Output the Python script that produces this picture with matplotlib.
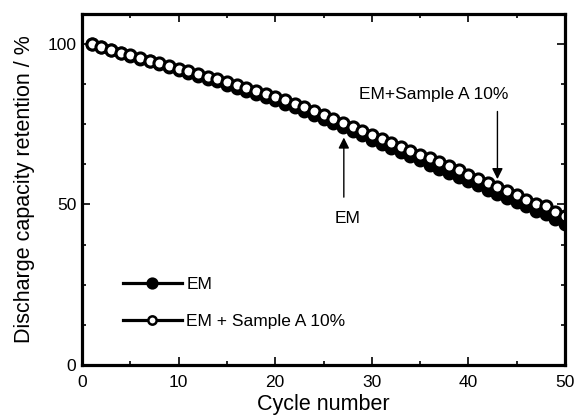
import matplotlib
matplotlib.use("Agg")
import matplotlib.pyplot as plt
from matplotlib.ticker import MultipleLocator

plt.rcParams['font.family'] = ['Liberation Sans', 'DejaVu Sans']

cycles = list(range(1, 51))
em = [100.0, 99.0, 98.0, 97.2, 96.3, 95.4, 94.6, 93.7, 92.8, 91.9,
      91.0, 90.1, 89.2, 88.3, 87.3, 86.4, 85.4, 84.4, 83.4, 82.4,
      81.3, 80.2, 79.0, 77.8, 76.6, 75.4, 74.2, 72.9, 71.6, 70.2,
      68.9, 67.6, 66.3, 65.0, 63.7, 62.4, 61.1, 59.8, 58.5, 57.2,
      55.9, 54.6, 53.3, 52.0, 50.7, 49.4, 48.1, 46.9, 45.5, 43.8]
em_sample = [100.0, 99.0, 98.1, 97.3, 96.4, 95.6, 94.8, 94.0, 93.1, 92.3,
             91.5, 90.6, 89.8, 88.9, 88.0, 87.2, 86.3, 85.4, 84.5, 83.5,
             82.5, 81.4, 80.3, 79.1, 77.9, 76.7, 75.5, 74.2, 72.9, 71.5,
             70.3, 69.1, 67.9, 66.7, 65.5, 64.3, 63.1, 61.9, 60.6, 59.3,
             58.0, 56.7, 55.4, 54.1, 52.8, 51.5, 50.2, 49.4, 47.6, 46.3]
labels = ["EM", "EM + Sample A 10%"]

fig = plt.figure(figsize=(5.76, 4.2), dpi=100)
ax = fig.add_axes([0.1424, 0.131, 0.8386, 0.8357])

ax.plot(cycles, em, '-o', color='black', lw=1.5, markersize=8,
        markerfacecolor='black', markeredgecolor='black', markeredgewidth=2.0,
        label=labels[0])
ax.plot(cycles, em_sample, '-o', color='black', lw=1.5, markersize=8,
        markerfacecolor='white', markeredgecolor='black', markeredgewidth=2.2,
        label=labels[1])

ax.set_xlim(0, 50)
ax.set_ylim(0, 109.3)
ax.xaxis.set_major_locator(MultipleLocator(10))
ax.xaxis.set_minor_locator(MultipleLocator(5))
ax.yaxis.set_major_locator(MultipleLocator(50))
ax.yaxis.set_minor_locator(MultipleLocator(12.5))
ax.tick_params(which='both', direction='in', top=True, right=True, width=1.2,
               labelsize=12.5)
ax.tick_params(which='major', length=6)
ax.tick_params(which='minor', length=3)
ax.tick_params(axis='x', pad=7)
ax.tick_params(axis='y', pad=4)
for s in ax.spines.values():
    s.set_linewidth(2.3)

ax.set_xlabel("Cycle number", fontsize=15.5, labelpad=3)
ax.set_ylabel("Discharge capacity retention / %", fontsize=15.5, labelpad=9)

ax.annotate("", xy=(27.1, 71.7), xytext=(27.1, 51.4),
            arrowprops=dict(arrowstyle='-|>', color='black', lw=1.0, mutation_scale=16))
ax.text(27.5, 45.5, "EM", fontsize=12.5, ha='center', va='center')
ax.annotate("", xy=(43.0, 57.0), xytext=(43.0, 79.8),
            arrowprops=dict(arrowstyle='-|>', color='black', lw=1.0, mutation_scale=16))
ax.text(36.4, 84.1, "EM+Sample A 10%", fontsize=12.5, ha='center', va='center')

leg = ax.legend(loc='upper left', bbox_to_anchor=(0.07, 0.272), frameon=False,
                fontsize=12.5, handlelength=3.4, handletextpad=0.25,
                labelspacing=1.3, borderaxespad=0)
msizes = [7, 6]
for h, ms in zip(leg.legend_handles, msizes):
    h.set_linewidth(2.3)
    h.set_markersize(ms)
    h.set_markeredgewidth(1.8)

fig.savefig("out.png", dpi=100)
